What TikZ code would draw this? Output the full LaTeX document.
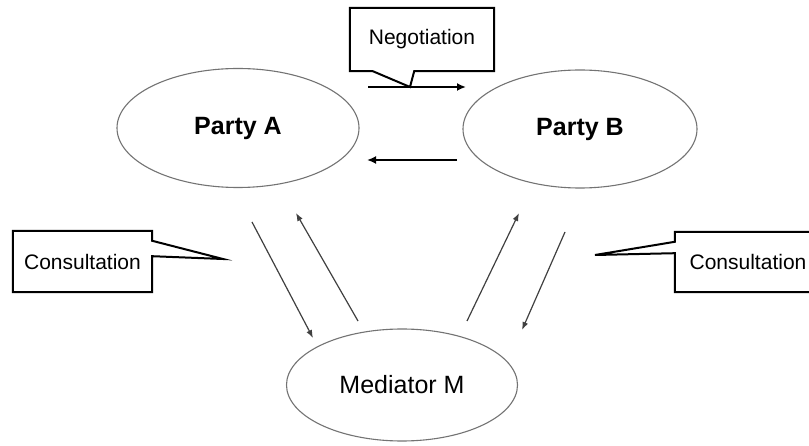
\documentclass[tikz,border=0pt]{standalone}
\usepackage{fontspec}
\setmainfont{Liberation Sans}
\usetikzlibrary{arrows.meta, shapes.geometric}

\begin{document}
\begin{tikzpicture}[
    x=1pt, y=-1pt,
    party/.style={ellipse, draw=black!55, line width=1.1pt, inner sep=0pt, font=\fontsize{25}{30}\selectfont},
    calltext/.style={rectangle, inner sep=0pt, font=\fontsize{21}{25}\selectfont},
    callline/.style={draw=black, line width=2pt, line join=miter},
    talk/.style={-{Latex[length=9pt,width=8pt]}, line width=2pt},
    consult/.style={-{Latex[length=8pt,width=6pt]}, draw=black!75, line width=1.2pt},
]
\useasboundingbox (0,0) rectangle (809,446);

% the three parties
\node[party, minimum width=242pt, minimum height=119pt] (partyA) at (238,128) {\bfseries Party A};
\node[party, minimum width=234pt, minimum height=118pt] (partyB) at (580,129) {\bfseries Party B};
\node[party, minimum width=231pt, minimum height=112pt] (mediator) at (402,385) {Mediator M};

% ends of the arrows
\coordinate (negL) at (368,87);
\coordinate (negR) at (466,87);
\coordinate (retR) at (457,160);
\coordinate (retL) at (367,160);
\coordinate (aOut) at (252,222);
\coordinate (mIn1) at (313,338);
\coordinate (mOut1) at (358,321);
\coordinate (aIn) at (296,213);
\coordinate (mOut2) at (467,321);
\coordinate (bIn) at (519,213);
\coordinate (bOut) at (565,232);
\coordinate (mIn2) at (522,330);

% negotiation
\draw[talk] (negL) -- (negR);
\draw[talk] (retR) -- (retL);

% consultation
\draw[consult] (aOut) -- (mIn1);
\draw[consult] (mOut1) -- (aIn);
\draw[consult] (mOut2) -- (bIn);
\draw[consult] (bOut) -- (mIn2);

% callouts
\node[calltext, minimum width=144pt, minimum height=63pt] (negbox) at (422,39.5) {Negotiation};
\coordinate (negtip) at (410,87);
\draw[callline] ([xshift=23pt]negbox.south west) -- (negbox.south west) -- (negbox.north west)
    -- (negbox.north east) -- (negbox.south east) -- ([xshift=-80pt]negbox.south east)
    -- (negtip) -- cycle;

\node[calltext, minimum width=139pt, minimum height=61pt] (conA) at (82.5,261.5) {Consultation};
\coordinate (conAtip) at (223,259);
\draw[callline] ([yshift=-10pt]conA.north east) -- (conA.north east) -- (conA.north west)
    -- (conA.south west) -- (conA.south east) -- ([yshift=36pt]conA.south east)
    -- (conAtip) -- cycle;

\node[calltext, minimum width=146pt, minimum height=60pt] (conB) at (748,262) {Consultation};
\coordinate (conBtip) at (595,255);
\draw[callline] ([yshift=-10pt]conB.north west) -- (conB.north west) -- (conB.north east)
    -- (conB.south east) -- (conB.south west) -- ([yshift=39pt]conB.south west)
    -- (conBtip) -- cycle;

\end{tikzpicture}
\end{document}
